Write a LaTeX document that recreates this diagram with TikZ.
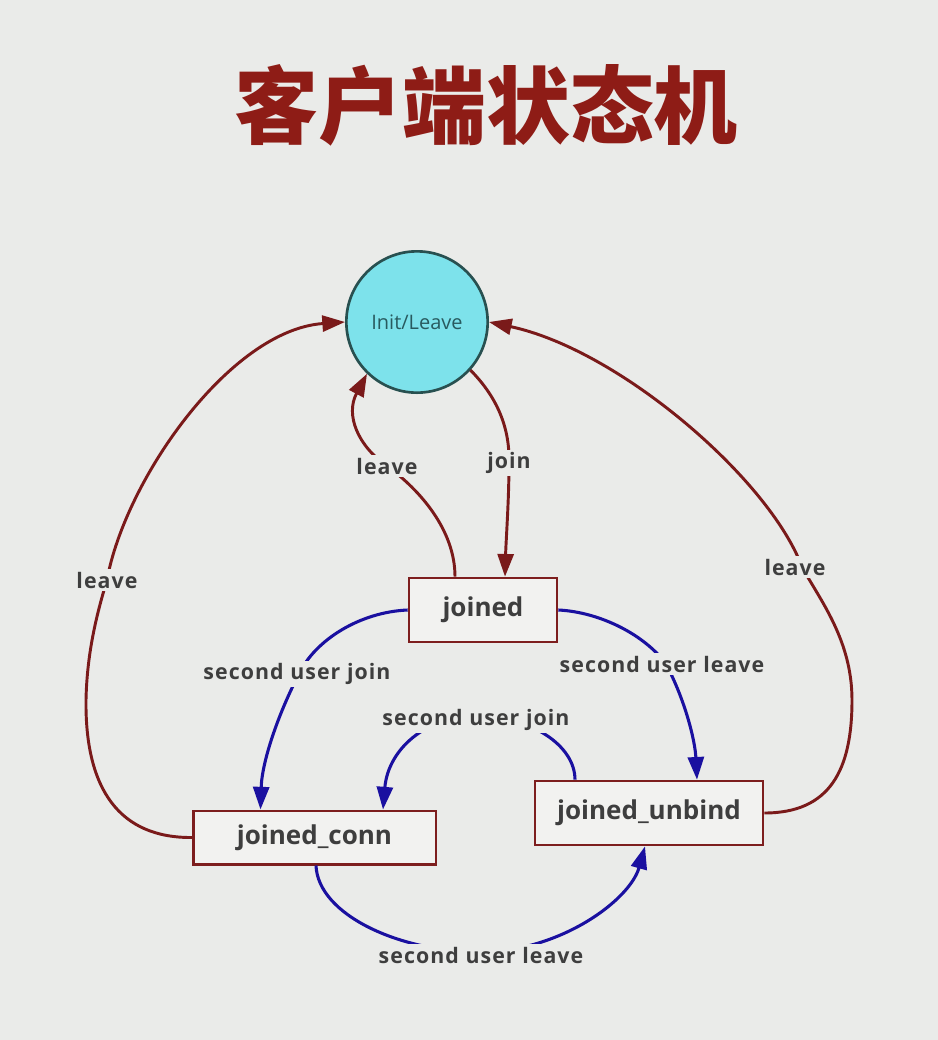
\documentclass[tikz,border=0pt]{standalone}
\usepackage{fontspec}
\usetikzlibrary{arrows.meta,calc}
\newfontfamily\cjkfont{Noto Sans CJK SC}
\newfontfamily\lblfont{Open Sans}
\newfontfamily\edgefont{Open Sans}[LetterSpace=5]
\definecolor{bg}{RGB}{234,235,233}
\definecolor{titlered}{RGB}{142,28,22}
\definecolor{boxred}{RGB}{125,30,30}
\definecolor{boxfill}{RGB}{242,242,240}
\definecolor{edgered}{RGB}{122,26,26}
\definecolor{edgeblue}{RGB}{26,16,160}
\definecolor{circfill}{RGB}{125,226,235}
\definecolor{circborder}{RGB}{40,80,80}
\definecolor{circtxt}{RGB}{40,90,95}
\definecolor{txt}{RGB}{62,62,62}
\begin{document}
\begin{tikzpicture}[x=0.75pt,y=-0.75pt,
  statebox/.style={draw=boxred, line width=2pt, fill=boxfill, minimum height=48pt, inner sep=0pt, text=txt, font=\lblfont\bfseries\fontsize{19.5}{22}\selectfont},
  edgelbl/.style={fill=bg, inner sep=2pt, text=txt, font=\edgefont\bfseries\fontsize{16}{18}\selectfont},
  redarrow/.style={draw=edgered, line width=2.2pt, -{Triangle[length=17pt,width=12pt]}},
  bluearrow/.style={draw=edgeblue, line width=2.3pt, -{Triangle[length=17pt,width=12pt]}}]
\fill[bg] (0,0) rectangle (938,1040);
\useasboundingbox (0,0) rectangle (938,1040);

\node[font=\cjkfont\bfseries\fontsize{63}{70}\selectfont, text=titlered] (title) at (486,105) {客户端状态机};

\node[circle, draw=circborder, line width=2pt, fill=circfill, minimum size=106pt, inner sep=0pt, text=circtxt, font=\lblfont\fontsize{15}{17}\selectfont] (init) at (417,322) {Init/Leave};
\node[statebox, minimum width=111pt] (joined) at (483,610) {joined};
\node[statebox, minimum width=182pt, minimum height=40pt] (conn) at (314.5,837.5) {joined\_conn};
\node[statebox, minimum width=171pt] (unbind) at (649,813) {joined\_unbind};

\coordinate (cLL) at (107,580);
\coordinate (cCL) at (387,466);
\coordinate (cJ) at (509,463);
\coordinate (cRL) at (802,567);
\coordinate (cSJ1) at (299,674);
\coordinate (cSL1) at (666,664);
\coordinate (cSJ2) at (477,716);
\coordinate (cSL2) at (480,952);

\draw[redarrow] (conn.west) .. controls (120,838) and (85,790) .. (86,700) .. controls (87,650) and (98,610) .. (cLL) .. controls (125,480) and (230,330) .. (init.west);
\draw[redarrow] ($(joined.north)+(-28,0)$) .. controls (455,530) and (420,490) .. (cCL) .. controls (358,446) and (345,415) .. (init.226);
\draw[redarrow] (init.-42) .. controls (495,395) and (510,425) .. (cJ) .. controls (509,500) and (506,540) .. ($(joined.north)+(22,0)$);
\draw[redarrow] (unbind.east) .. controls (830,813) and (852,770) .. (852,700) .. controls (852,640) and (820,600) .. (cRL) .. controls (770,480) and (620,350) .. (init.east);

\draw[bluearrow] (joined.west) .. controls (360,612) and (315,640) .. (cSJ1) .. controls (280,710) and (262,760) .. ($(conn.north)+(-54,0)$);
\draw[bluearrow] (joined.east) .. controls (600,612) and (645,635) .. (cSL1) .. controls (685,700) and (695,740) .. ($(unbind.north)+(48,0)$);
\draw[bluearrow] ($(unbind.north)+(-74,0)$) .. controls (575,745) and (530,716) .. (cSJ2) .. controls (425,716) and (388,750) .. ($(conn.north)+(68.5,0)$);
\draw[bluearrow] ($(conn.south)+(1.5,0)$) .. controls (318,915) and (400,952) .. (cSL2) .. controls (560,952) and (630,900) .. ($(unbind.south)+(-4,0)$);

\node[edgelbl] (lLL) at (107,580) {leave};
\node[edgelbl] (lCL) at (387,466) {leave};
\node[edgelbl] (lJ) at (509,463) {join};
\node[edgelbl] (lRL) at (795,567) {leave};
\node[edgelbl] (lSJ1) at (297,674) {second user join};
\node[edgelbl] (lSL1) at (662,664) {second user leave};
\node[edgelbl] (lSJ2) at (476,720) {second user join};
\node[edgelbl] (lSL2) at (481,955) {second user leave};
\end{tikzpicture}
\end{document}
